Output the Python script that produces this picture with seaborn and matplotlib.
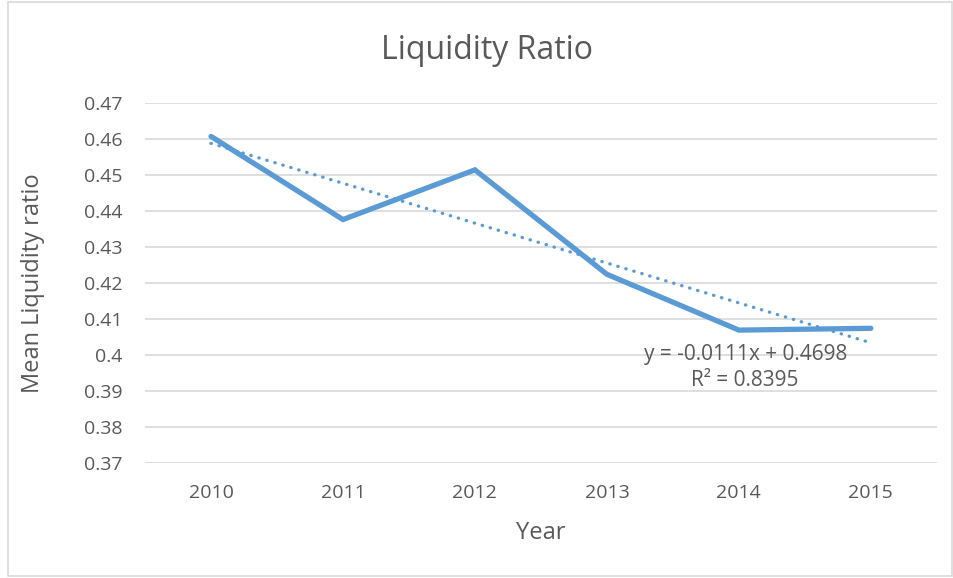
import matplotlib
matplotlib.use("Agg")
import matplotlib.pyplot as plt
import numpy as np
import pandas as pd
import seaborn as sns
from matplotlib.patches import Rectangle

years = ["2010", "2011", "2012", "2013", "2014", "2015"]
liquidity = [0.4607, 0.4376, 0.4514, 0.4224, 0.4069, 0.4074]
y_ticks = [0.37, 0.38, 0.39, 0.40, 0.41, 0.42, 0.43, 0.44, 0.45, 0.46, 0.47]
y_tick_labels = ["0.37", "0.38", "0.39", "0.4", "0.41", "0.42", "0.43", "0.44", "0.45", "0.46", "0.47"]

df = pd.DataFrame({"pos": np.arange(len(years)), "ratio": liquidity})

sns.set_style("white")
plt.rcParams["font.family"] = ["Open Sans", "DejaVu Sans"]

blue = "#5B9BD5"
grey_txt = "#595959"

fig = plt.figure(figsize=(9.54, 5.78), dpi=100)
ax = fig.add_axes([0.152, 0.199, 0.830, 0.623])

# linear trendline (dotted)
sns.regplot(data=df, x="pos", y="ratio", ax=ax, scatter=False, ci=None, truncate=True,
            line_kws={"color": blue, "linestyle": (0, (0.1, 2.4)), "linewidth": 2.4,
                      "dash_capstyle": "round"})
sns.lineplot(data=df, x="pos", y="ratio", ax=ax, color=blue, linewidth=3.8,
             solid_capstyle="round", solid_joinstyle="miter")

ax.set_xlim(-0.5, len(years) - 0.5)
ax.set_ylim(0.37, 0.47)
ax.set_xticks(range(len(years)))
ax.set_xticklabels(years)
ax.set_yticks(y_ticks)
ax.set_yticklabels(y_tick_labels)
ax.tick_params(axis="both", length=0, labelsize=14, labelcolor=grey_txt)
ax.tick_params(axis="y", pad=16)
ax.tick_params(axis="x", pad=15)
ax.grid(axis="y", color="#D9D9D9", linewidth=1.2)
ax.set_axisbelow(True)
for s in ax.spines.values():
    s.set_visible(False)
ax.set_xlabel("")
ax.set_ylabel("")

ax.text(0.758, 0.30, "y = -0.0111x + 0.4698", transform=ax.transAxes,
        ha="center", va="center", fontsize=15, color=grey_txt)
ax.text(0.758, 0.228, "R² = 0.8395", transform=ax.transAxes,
        ha="center", va="center", fontsize=15, color=grey_txt)

fig.text(0.51, 0.913, "Liquidity Ratio", ha="center", va="center", fontsize=23, color=grey_txt)
fig.text(0.567, 0.077, "Year", ha="center", va="center", fontsize=17, color=grey_txt)
fig.text(0.035, 0.51, "Mean Liquidity ratio", ha="center", va="center", rotation=90,
         fontsize=17, color=grey_txt)

fig.patches.append(Rectangle((0.008, 0.003), 0.99, 0.994, transform=fig.transFigure,
                             fill=False, edgecolor="#D9D9D9", linewidth=1.2))

fig.savefig("out.png", dpi=100)
